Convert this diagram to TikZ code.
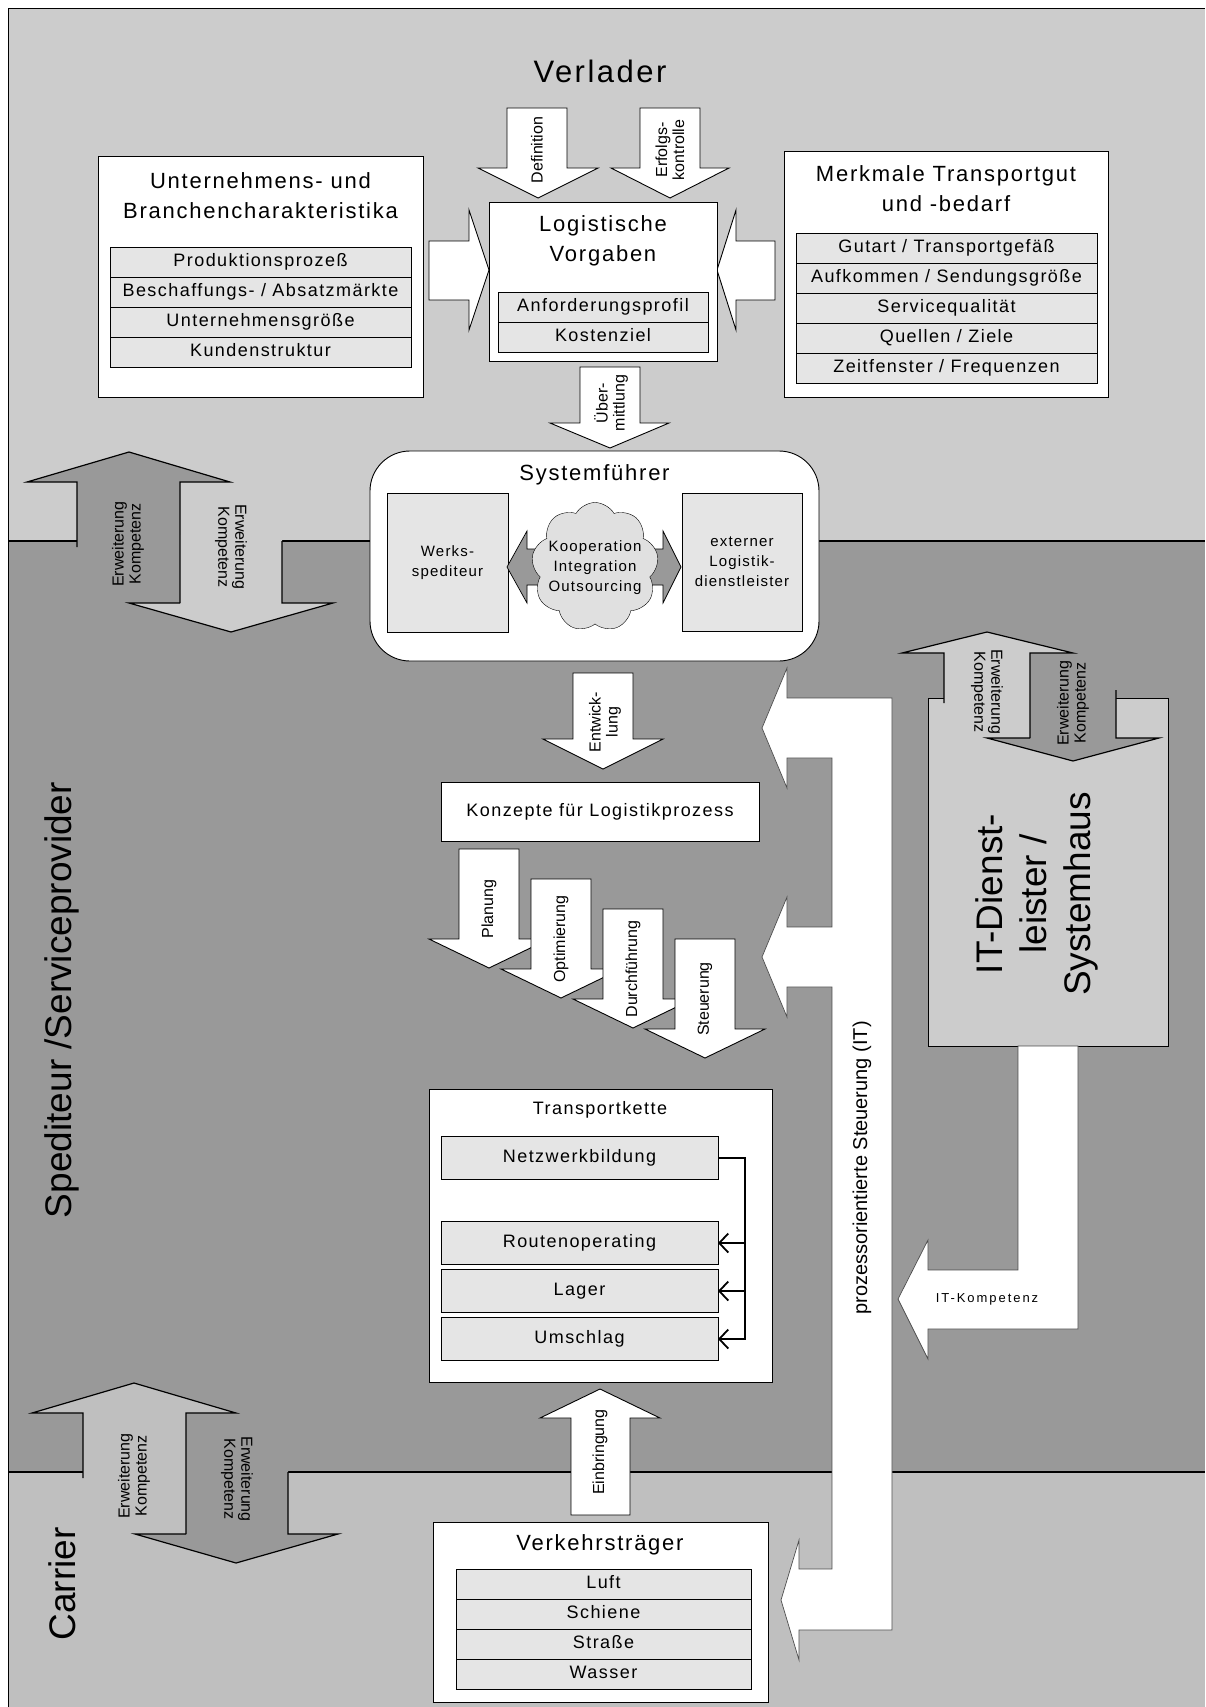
\documentclass[tikz,border=0pt]{standalone}
\usepackage{fontspec}
\setmainfont{Liberation Sans}
\newfontfamily\spaced[LetterSpace=8]{Liberation Sans}
\newfontfamily\wide[LetterSpace=15]{Liberation Sans}
\usetikzlibrary{positioning,shapes.symbols,arrows.meta}

\definecolor{verladergray}{gray}{0.8}
\definecolor{spedgray}{gray}{0.6}
\definecolor{carriergray}{gray}{0.75}
\definecolor{rowgray}{gray}{0.9}
\definecolor{cloudgray}{gray}{0.88}

\begin{document}
\begin{tikzpicture}[x=1pt,y=-1pt,
  whitebox/.style={draw, fill=white, inner sep=0pt, line width=0.9pt},
  rowbox/.style={draw, fill=rowgray, inner sep=0pt, outer sep=0pt, minimum height=30pt, line width=0.6pt,
    text height=13pt, text depth=4pt, font=\spaced\fontsize{18}{22}\selectfont},
  titletext/.style={align=center, font=\spaced\fontsize{22}{30}\selectfont},
  smalltext/.style={align=center, font=\spaced\fontsize{15}{20}\selectfont},
  arrowtext/.style={align=center, font=\fontsize{16}{17}\selectfont},
  bigtext/.style={align=center, font=\fontsize{37}{44}\selectfont},
  blockarrow/.style={draw, fill=white, line width=0.9pt},
  thinarrow/.style={draw=black!70, fill=white, line width=0.7pt},
  bandline/.style={line width=1.2pt}]
\useasboundingbox (0,0) rectangle (1205,1707);

% Bands
\fill[verladergray] (8,8) rectangle (1205,541);
\fill[spedgray] (8,541) rectangle (1205,1472);
\fill[carriergray] (8,1472) rectangle (1205,1707);
\draw[bandline] (8,541) -- (1205,541);
\draw[bandline] (8,1472) -- (1205,1472);
\draw[bandline] (8.5,1707) -- (8.5,8.5) -- (1205,8.5);

\node[font=\spaced\fontsize{31}{36}\selectfont] (verlader) at (600,71) {Verlader};
\node[bigtext, rotate=90] (spediteur) at (62,1000) {Spediteur /Serviceprovider};
\node[bigtext, rotate=90] (carrier) at (62,1584) {Carrier};

% Kompetenz Verlader / Spediteur
\fill[spedgray] (77,547) -- (77,482) -- (27,482) -- (129,452) -- (230,482) -- (180,482) -- (180,547) -- cycle;
\fill[verladergray] (180,535) -- (180,603) -- (129,603) -- (231,632) -- (333,603) -- (282,603) -- (282,535) -- cycle;
\draw[bandline] (77,547) -- (77,482) -- (27,482) -- (129,452) -- (230,482) -- (180,482) -- (180,603);
\draw[bandline] (180,603) -- (129,603) -- (231,632) -- (333,603) -- (282,603) -- (282,541);
\node[arrowtext, rotate=90] (kompetenz1) at (128,544) {Erweiterung\\Kompetenz};
\node[arrowtext, rotate=-90] (kompetenz2) at (231,547) {Erweiterung\\Kompetenz};

% Kompetenz Spediteur / Carrier
\fill[carriergray] (83,1478) -- (83,1413) -- (32,1413) -- (134,1383) -- (236,1413) -- (186,1413) -- (186,1478) -- cycle;
\fill[spedgray] (186,1466) -- (186,1534) -- (135,1534) -- (236,1563) -- (338,1534) -- (288,1534) -- (288,1466) -- cycle;
\draw[bandline] (83,1478) -- (83,1413) -- (32,1413) -- (134,1383) -- (236,1413) -- (186,1413) -- (186,1534);
\draw[bandline] (186,1534) -- (135,1534) -- (236,1563) -- (338,1534) -- (288,1534) -- (288,1472);
\node[arrowtext, rotate=90] (kompetenz3) at (134,1476) {Erweiterung\\Kompetenz};
\node[arrowtext, rotate=-90] (kompetenz4) at (237,1479) {Erweiterung\\Kompetenz};

% Verlader
\draw[blockarrow] (429,241) -- (469,241) -- (469,210) -- (489,270) -- (469,330) -- (469,300) -- (429,300) -- cycle;
\draw[blockarrow] (775,241) -- (736,241) -- (736,210) -- (717,270) -- (736,330) -- (736,300) -- (775,300) -- cycle;
\draw[blockarrow] (507,108) -- (567,108) -- (567,168) -- (598,168) -- (538,198) -- (478,168) -- (507,168) -- cycle;
\draw[blockarrow] (640,108) -- (700,108) -- (700,168) -- (729,168) -- (670,198) -- (611,168) -- (640,168) -- cycle;
\node[arrowtext, rotate=90] (definition) at (537,150) {Definition};
\node[arrowtext, rotate=90] (erfolg) at (670,150) {Erfolgs-\\kontrolle};

\node[whitebox, minimum width=325pt, minimum height=241pt] (firma) at (260.5,276.5) {};
\node[titletext] (firmatitle) at (260.5,195.5) {Unternehmens- und\\Branchencharakteristika};
\node[rowbox, minimum width=301pt] (produktion) at (260.5,262) {Produktionsprozeß};
\node[rowbox, minimum width=301pt, below=0pt of produktion] (beschaffung) {Beschaffungs- / Absatzmärkte};
\node[rowbox, minimum width=301pt, below=0pt of beschaffung] (groesse) {Unternehmensgröße};
\node[rowbox, minimum width=301pt, below=0pt of groesse] (kunden) {Kundenstruktur};

\node[whitebox, minimum width=228pt, minimum height=159pt] (vorgaben) at (603,281.5) {};
\node[titletext] (vorgabentitle) at (603,241) {Logistische\\Vorgaben};
\node[rowbox, minimum width=210pt] (anforderung) at (603,307) {Anforderungsprofil};
\node[rowbox, minimum width=210pt, below=0pt of anforderung] (kosten) {Kostenziel};

\node[whitebox, minimum width=324pt, minimum height=246pt] (merkmale) at (946,274) {};
\node[titletext] (merkmaletitle) at (946,188.5) {Merkmale Transportgut\\und -bedarf};
\node[rowbox, minimum width=301pt] (gutart) at (946.5,248) {Gutart / Transportgefäß};
\node[rowbox, minimum width=301pt, below=0pt of gutart] (aufkommen) {Aufkommen / Sendungsgröße};
\node[rowbox, minimum width=301pt, below=0pt of aufkommen] (service) {Servicequalität};
\node[rowbox, minimum width=301pt, below=0pt of service] (quellen) {Quellen / Ziele};
\node[rowbox, minimum width=301pt, below=0pt of quellen] (zeitfenster) {Zeitfenster / Frequenzen};

\draw[blockarrow] (580,367) -- (640,367) -- (640,423) -- (669,423) -- (610,448) -- (550,423) -- (580,423) -- cycle;
\node[arrowtext, rotate=90] (uebermittlung) at (611,403) {Über-\\mittlung};

% Systemfuehrer
\node[whitebox, rounded corners=40pt, minimum width=449pt, minimum height=210pt] (system) at (594.5,556) {};
\node[titletext] (systemtitle) at (594.5,475) {Systemführer};
\node[draw, fill=rowgray, minimum width=121pt, minimum height=139pt, smalltext] (werks) at (447.5,562.5) {Werks-\\spediteur};
\node[draw, fill=rowgray, minimum width=120pt, minimum height=138pt, smalltext] (extern) at (742,562) {externer\\Logistik-\\dienstleister};
\draw[fill=spedgray, line width=0.7pt] (507,567) -- (527,531) -- (527,549) -- (663,549) -- (663,531) -- (681,567)
  -- (663,603) -- (663,585) -- (527,585) -- (527,603) -- cycle;
\node[cloud, cloud puffs=9, cloud puff arc=120, aspect=1, draw, fill=cloudgray, minimum width=127pt,
  minimum height=129pt, inner sep=0pt] (cloud) at (595,567) {};
\node[smalltext] (cloudtext) at (595,568) {Kooperation\\Integration\\Outsourcing};

% Spediteur
\draw[blockarrow] (573,673) -- (633,673) -- (633,739) -- (663,739) -- (603,769) -- (543,739) -- (573,739) -- cycle;
\node[arrowtext, rotate=90] (entwicklung) at (605,722) {Entwick-\\lung};
\node[whitebox, minimum width=318pt, minimum height=59pt, font=\spaced\fontsize{18}{22}\selectfont] (konzepte) at (600,811.5) {Konzepte für Logistikprozess};

\draw[blockarrow] (459,849) -- (519,849) -- (519,939) -- (549,939) -- (489,968) -- (429,939) -- (459,939) -- cycle;
\node[arrowtext, rotate=90] (planung) at (489,909) {Planung};
\draw[blockarrow] (531,879) -- (591,879) -- (591,969) -- (621,969) -- (561,998) -- (501,969) -- (531,969) -- cycle;
\node[arrowtext, rotate=90] (optimierung) at (561,939) {Optimierung};
\draw[blockarrow] (603,909) -- (663,909) -- (663,999) -- (693,999) -- (633,1028) -- (573,999) -- (603,999) -- cycle;
\node[arrowtext, rotate=90] (durchfuehrung) at (633,969) {Durchführung};
\draw[blockarrow] (675,939) -- (735,939) -- (735,1029) -- (765,1029) -- (705,1058) -- (645,1029) -- (675,1029) -- cycle;
\node[arrowtext, rotate=90] (steuerung) at (705,999) {Steuerung};

\node[whitebox, minimum width=343pt, minimum height=293pt] (kette) at (600.5,1235.5) {};
\node[font=\spaced\fontsize{18}{22}\selectfont] (kettetitle) at (600,1110) {Transportkette};
\node[rowbox, minimum width=277pt, minimum height=43pt] (netzwerk) at (579.5,1158) {Netzwerkbildung};
\node[rowbox, minimum width=277pt, minimum height=43pt] (route) at (579.5,1243) {Routenoperating};
\node[rowbox, minimum width=277pt, minimum height=43pt, below=5pt of route] (lager) {Lager};
\node[rowbox, minimum width=277pt, minimum height=43pt, below=5pt of lager] (umschlag) {Umschlag};
\draw[line width=1.8pt, -{Straight Barb[length=9pt,width=19pt]}] (netzwerk.east) -- ++(27,0) |- (route.east);
\draw[line width=1.8pt, -{Straight Barb[length=9pt,width=19pt]}] (netzwerk.east) -- ++(27,0) |- (lager.east);
\draw[line width=1.8pt, -{Straight Barb[length=9pt,width=19pt]}] (netzwerk.east) -- ++(27,0) |- (umschlag.east);

% Carrier
\draw[blockarrow] (571,1515) -- (571,1418) -- (540,1418) -- (600,1389) -- (660,1418) -- (630,1418) -- (630,1515) -- cycle;
\node[arrowtext, rotate=90] (einbringung) at (600,1452) {Einbringung};
\node[whitebox, minimum width=335pt, minimum height=180pt] (verkehr) at (600.5,1612) {};
\node[titletext] (verkehrtitle) at (600,1545) {Verkehrsträger};
\node[rowbox, minimum width=295pt] (luft) at (603.5,1584) {Luft};
\node[rowbox, minimum width=295pt, below=0pt of luft] (schiene) {Schiene};
\node[rowbox, minimum width=295pt, below=0pt of schiene] (strasse) {Straße};
\node[rowbox, minimum width=295pt, below=0pt of strasse] (wasser) {Wasser};

% Prozessorientierte Steuerung
\draw[thinarrow] (892,698) -- (787,698) -- (787,668) -- (762,728) -- (787,788) -- (787,758) -- (832,758)
  -- (832,927) -- (787,927) -- (787,897) -- (762,957) -- (787,1017) -- (787,987) -- (832,987)
  -- (832,1569) -- (799,1569) -- (799,1540) -- (781,1600) -- (799,1660) -- (799,1630) -- (892,1630) -- cycle;
\node[font=\fontsize{20}{24}\selectfont, rotate=90] (prozess) at (862,1168) {prozessorientierte Steuerung (IT)};

% IT-Dienstleister
\node[draw, fill=verladergray, line width=0.9pt, minimum width=240pt, minimum height=348pt] (it) at (1048,872) {};
\node[bigtext, rotate=90] (ittext) at (1037,894) {IT-Dienst-\\leister /\\Systemhaus};
\fill[verladergray] (944,703) -- (944,653) -- (902,653) -- (987,632) -- (1073,653) -- (1030,653) -- (1030,703) -- cycle;
\fill[spedgray] (1030,690) -- (1030,738) -- (987,738) -- (1073,761) -- (1159,738) -- (1116,738) -- (1116,690) -- cycle;
\draw[bandline] (944,703) -- (944,653) -- (902,653) -- (987,632) -- (1073,653) -- (1030,653) -- (1030,738);
\draw[bandline] (1030,738) -- (987,738) -- (1073,761) -- (1159,738) -- (1116,738) -- (1116,690);
\node[arrowtext, rotate=-90] (kompetenz5) at (987,692) {Erweiterung\\Kompetenz};
\node[arrowtext, rotate=90] (kompetenz6) at (1073,703) {Erweiterung\\Kompetenz};

\draw[thinarrow] (1018,1046) -- (1018,1270) -- (928,1270) -- (928,1240) -- (898,1299) -- (928,1359)
  -- (928,1329) -- (1078,1329) -- (1078,1046) -- cycle;
\node[font=\wide\fontsize{13}{15}\selectfont] (itkompetenz) at (987,1299) {IT-Kompetenz};
\end{tikzpicture}
\end{document}
